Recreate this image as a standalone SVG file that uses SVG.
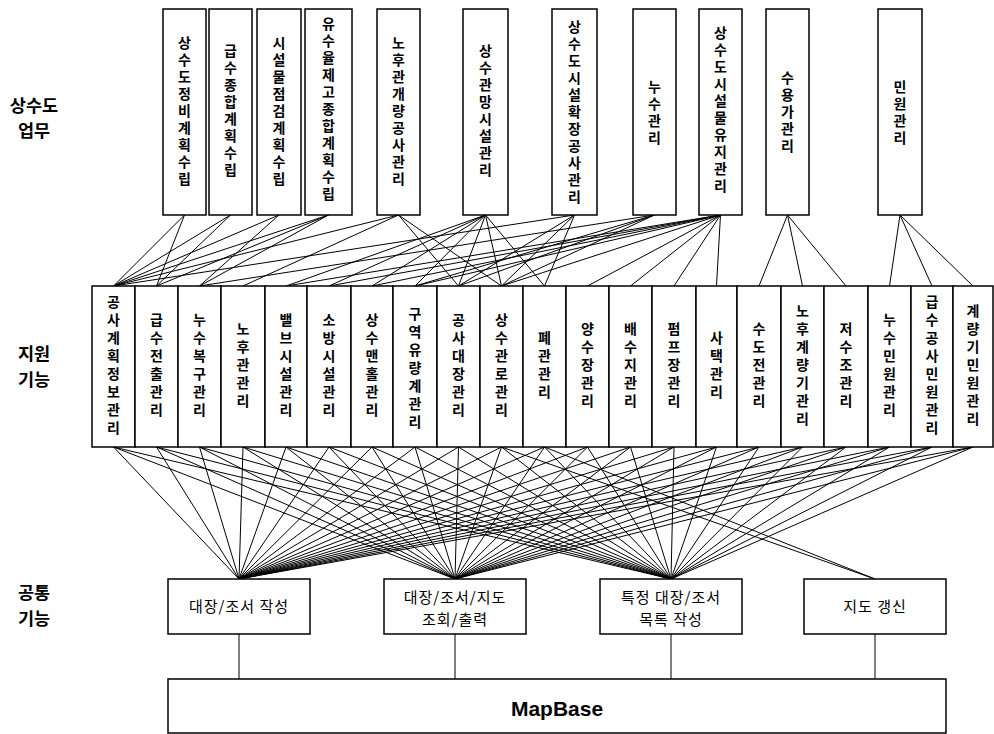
<svg xmlns="http://www.w3.org/2000/svg" width="994" height="734" viewBox="0 0 994 734">
  <style>
    .box { fill: #fff; stroke: #000; stroke-width: 1.5; }
    .edge { stroke: #000; stroke-width: 1; fill: none; }
    .vt { font-family: "Noto Sans CJK KR", "Noto Sans", sans-serif; font-size: 14px; font-weight: bold; writing-mode: vertical-rl; text-anchor: middle; fill: #000; }
    .top .vt { letter-spacing: 3px; }
    .mid .vt { letter-spacing: 4px; }
    .lvl { font-family: "Noto Sans CJK KR", "Noto Sans", sans-serif; font-size: 17.5px; font-weight: bold; text-anchor: middle; fill: #000; }
    .lbl { font-family: "Noto Sans CJK KR", "Noto Sans", sans-serif; font-size: 15px; text-anchor: middle; letter-spacing: 1px; fill: #000; }
    .base { font-family: "Liberation Sans", Arial, sans-serif; font-size: 21px; font-weight: bold; text-anchor: middle; fill: #000; }
  </style>

  <!-- layer captions -->
  <g id="captions">
    <text class="lvl" x="34" y="112">상수도</text>
    <text class="lvl" x="34" y="137">업무</text>
    <text class="lvl" x="34" y="360">지원</text>
    <text class="lvl" x="34" y="386">기능</text>
    <text class="lvl" x="34" y="599">공통</text>
    <text class="lvl" x="34" y="625">기능</text>
  </g>

  <!-- connectors -->
  <g id="connectors" class="edge">
    <!-- business tasks -> support functions -->
    <line x1="184.5" y1="215" x2="113.5" y2="286"/>
    <line x1="184.5" y1="215" x2="156.5" y2="286"/>
    <line x1="230.5" y1="215" x2="113.5" y2="286"/>
    <line x1="230.5" y1="215" x2="156.5" y2="286"/>
    <line x1="279" y1="215" x2="113.5" y2="286"/>
    <line x1="279" y1="215" x2="199.5" y2="286"/>
    <line x1="328.5" y1="215" x2="113.5" y2="286"/>
    <line x1="328.5" y1="215" x2="156.5" y2="286"/>
    <line x1="328.5" y1="215" x2="199.5" y2="286"/>
    <line x1="398.5" y1="215" x2="113.5" y2="286"/>
    <line x1="398.5" y1="215" x2="243" y2="286"/>
    <line x1="398.5" y1="215" x2="458.5" y2="286"/>
    <line x1="398.5" y1="215" x2="501.5" y2="286"/>
    <line x1="485.5" y1="215" x2="286" y2="286"/>
    <line x1="485.5" y1="215" x2="329" y2="286"/>
    <line x1="485.5" y1="215" x2="372" y2="286"/>
    <line x1="485.5" y1="215" x2="415" y2="286"/>
    <line x1="485.5" y1="215" x2="458.5" y2="286"/>
    <line x1="485.5" y1="215" x2="501.5" y2="286"/>
    <line x1="485.5" y1="215" x2="544.5" y2="286"/>
    <line x1="574.5" y1="215" x2="113.5" y2="286"/>
    <line x1="574.5" y1="215" x2="458.5" y2="286"/>
    <line x1="574.5" y1="215" x2="501.5" y2="286"/>
    <line x1="574.5" y1="215" x2="544.5" y2="286"/>
    <line x1="654.5" y1="215" x2="199.5" y2="286"/>
    <line x1="654.5" y1="215" x2="415" y2="286"/>
    <line x1="654.5" y1="215" x2="458.5" y2="286"/>
    <line x1="654.5" y1="215" x2="501.5" y2="286"/>
    <line x1="720.5" y1="215" x2="286" y2="286"/>
    <line x1="720.5" y1="215" x2="329" y2="286"/>
    <line x1="720.5" y1="215" x2="372" y2="286"/>
    <line x1="720.5" y1="215" x2="415" y2="286"/>
    <line x1="720.5" y1="215" x2="501.5" y2="286"/>
    <line x1="720.5" y1="215" x2="587.5" y2="286"/>
    <line x1="720.5" y1="215" x2="630.5" y2="286"/>
    <line x1="720.5" y1="215" x2="674" y2="286"/>
    <line x1="720.5" y1="215" x2="716.5" y2="286"/>
    <line x1="787.5" y1="215" x2="759" y2="286"/>
    <line x1="787.5" y1="215" x2="802.5" y2="286"/>
    <line x1="787.5" y1="215" x2="846" y2="286"/>
    <line x1="900" y1="215" x2="889.5" y2="286"/>
    <line x1="900" y1="215" x2="932" y2="286"/>
    <line x1="900" y1="215" x2="973" y2="286"/>

    <!-- support functions -> common functions -->
    <line x1="113.5" y1="447" x2="239" y2="579"/><line x1="113.5" y1="447" x2="455" y2="579"/><line x1="113.5" y1="447" x2="671" y2="579"/>
    <line x1="156.5" y1="447" x2="239" y2="579"/><line x1="156.5" y1="447" x2="455" y2="579"/><line x1="156.5" y1="447" x2="671" y2="579"/>
    <line x1="199.5" y1="447" x2="239" y2="579"/><line x1="199.5" y1="447" x2="455" y2="579"/><line x1="199.5" y1="447" x2="671" y2="579"/>
    <line x1="243" y1="447" x2="239" y2="579"/><line x1="243" y1="447" x2="455" y2="579"/><line x1="243" y1="447" x2="671" y2="579"/>
    <line x1="286" y1="447" x2="239" y2="579"/><line x1="286" y1="447" x2="455" y2="579"/><line x1="286" y1="447" x2="671" y2="579"/>
    <line x1="329" y1="447" x2="239" y2="579"/><line x1="329" y1="447" x2="455" y2="579"/><line x1="329" y1="447" x2="671" y2="579"/>
    <line x1="372" y1="447" x2="239" y2="579"/><line x1="372" y1="447" x2="455" y2="579"/><line x1="372" y1="447" x2="671" y2="579"/>
    <line x1="415" y1="447" x2="239" y2="579"/><line x1="415" y1="447" x2="455" y2="579"/><line x1="415" y1="447" x2="671" y2="579"/>
    <line x1="458.5" y1="447" x2="239" y2="579"/><line x1="458.5" y1="447" x2="455" y2="579"/><line x1="458.5" y1="447" x2="671" y2="579"/>
    <line x1="501.5" y1="447" x2="239" y2="579"/><line x1="501.5" y1="447" x2="455" y2="579"/><line x1="501.5" y1="447" x2="671" y2="579"/>
    <line x1="544.5" y1="447" x2="239" y2="579"/><line x1="544.5" y1="447" x2="455" y2="579"/><line x1="544.5" y1="447" x2="671" y2="579"/>
    <line x1="587.5" y1="447" x2="239" y2="579"/><line x1="587.5" y1="447" x2="455" y2="579"/><line x1="587.5" y1="447" x2="671" y2="579"/>
    <line x1="630.5" y1="447" x2="239" y2="579"/><line x1="630.5" y1="447" x2="455" y2="579"/><line x1="630.5" y1="447" x2="671" y2="579"/>
    <line x1="674" y1="447" x2="239" y2="579"/><line x1="674" y1="447" x2="455" y2="579"/><line x1="674" y1="447" x2="671" y2="579"/>
    <line x1="716.5" y1="447" x2="239" y2="579"/><line x1="716.5" y1="447" x2="455" y2="579"/><line x1="716.5" y1="447" x2="671" y2="579"/>
    <line x1="759" y1="447" x2="239" y2="579"/><line x1="759" y1="447" x2="455" y2="579"/><line x1="759" y1="447" x2="671" y2="579"/>
    <line x1="802.5" y1="447" x2="239" y2="579"/><line x1="802.5" y1="447" x2="455" y2="579"/><line x1="802.5" y1="447" x2="671" y2="579"/>
    <line x1="846" y1="447" x2="239" y2="579"/><line x1="846" y1="447" x2="455" y2="579"/><line x1="846" y1="447" x2="671" y2="579"/>
    <line x1="889.5" y1="447" x2="239" y2="579"/><line x1="889.5" y1="447" x2="455" y2="579"/><line x1="889.5" y1="447" x2="671" y2="579"/>
    <line x1="932" y1="447" x2="239" y2="579"/><line x1="932" y1="447" x2="455" y2="579"/><line x1="932" y1="447" x2="671" y2="579"/>
    <line x1="973" y1="447" x2="239" y2="579"/><line x1="973" y1="447" x2="455" y2="579"/><line x1="973" y1="447" x2="671" y2="579"/>
    <line x1="501.5" y1="447" x2="875" y2="579"/>
    <line x1="544.5" y1="447" x2="875" y2="579"/>

    <!-- common functions -> MapBase -->
    <line x1="239" y1="634" x2="239" y2="679"/>
    <line x1="455" y1="634" x2="455" y2="679"/>
    <line x1="671" y1="634" x2="671" y2="679"/>
    <line x1="875" y1="634" x2="875" y2="679"/>
  </g>

  <!-- water-supply business tasks -->
  <g class="top">
    <g id="t1"><rect class="box" x="163" y="9" width="43" height="206"/><text class="vt" x="184.5" y="112">상수도정비계획수립</text></g>
    <g id="t2"><rect class="box" x="209" y="9" width="43" height="206"/><text class="vt" x="230.5" y="112">급수종합계획수립</text></g>
    <g id="t3"><rect class="box" x="257" y="9" width="44" height="206"/><text class="vt" x="279" y="112">시설물점검계획수립</text></g>
    <g id="t4"><rect class="box" x="305" y="9" width="47" height="206"/><text class="vt" x="328.5" y="110">유수율제고종합계획수립</text></g>
    <g id="t5"><rect class="box" x="377" y="9" width="43" height="206"/><text class="vt" x="398.5" y="112">노후관개량공사관리</text></g>
    <g id="t6"><rect class="box" x="463" y="9" width="45" height="206"/><text class="vt" x="485.5" y="112">상수관망시설관리</text></g>
    <g id="t7"><rect class="box" x="552" y="9" width="45" height="206"/><text class="vt" x="574.5" y="113">상수도시설확장공사관리</text></g>
    <g id="t8"><rect class="box" x="633" y="9" width="43" height="206"/><text class="vt" x="654.5" y="114">누수관리</text></g>
    <g id="t9"><rect class="box" x="699" y="9" width="43" height="206"/><text class="vt" x="720.5" y="111">상수도시설물유지관리</text></g>
    <g id="t10"><rect class="box" x="766" y="9" width="43" height="206"/><text class="vt" x="787.5" y="113">수용가관리</text></g>
    <g id="t11"><rect class="box" x="878" y="9" width="44" height="206"/><text class="vt" x="900" y="114">민원관리</text></g>
  </g>

  <!-- support functions -->
  <g class="mid">
    <g id="m1"><rect class="box" x="92" y="286" width="43" height="161"/><text class="vt" x="113.5" y="367">공사계획정보관리</text></g>
    <g id="m2"><rect class="box" x="135" y="286" width="43" height="161"/><text class="vt" x="156.5" y="367">급수전출관리</text></g>
    <g id="m3"><rect class="box" x="178" y="286" width="43" height="161"/><text class="vt" x="199.5" y="367">누수복구관리</text></g>
    <g id="m4"><rect class="box" x="221" y="286" width="44" height="161"/><text class="vt" x="243" y="367">노후관관리</text></g>
    <g id="m5"><rect class="box" x="265" y="286" width="42" height="161"/><text class="vt" x="286" y="367">밸브시설관리</text></g>
    <g id="m6"><rect class="box" x="307" y="286" width="44" height="161"/><text class="vt" x="329" y="367">소방시설관리</text></g>
    <g id="m7"><rect class="box" x="351" y="286" width="42" height="161"/><text class="vt" x="372" y="367">상수맨홀관리</text></g>
    <g id="m8"><rect class="box" x="393" y="286" width="44" height="161"/><text class="vt" x="415" y="370">구역유량계관리</text></g>
    <g id="m9"><rect class="box" x="437" y="286" width="43" height="161"/><text class="vt" x="458.5" y="367">공사대장관리</text></g>
    <g id="m10"><rect class="box" x="480" y="286" width="43" height="161"/><text class="vt" x="501.5" y="367">상수관로관리</text></g>
    <g id="m11"><rect class="box" x="523" y="286" width="43" height="161"/><text class="vt" x="544.5" y="367">폐관관리</text></g>
    <g id="m12"><rect class="box" x="566" y="286" width="43" height="161"/><text class="vt" x="587.5" y="367">양수장관리</text></g>
    <g id="m13"><rect class="box" x="609" y="286" width="43" height="161"/><text class="vt" x="630.5" y="367">배수지관리</text></g>
    <g id="m14"><rect class="box" x="652" y="286" width="44" height="161"/><text class="vt" x="674" y="367">펌프장관리</text></g>
    <g id="m15"><rect class="box" x="696" y="286" width="41" height="161"/><text class="vt" x="716.5" y="367">사택관리</text></g>
    <g id="m16"><rect class="box" x="737" y="286" width="44" height="161"/><text class="vt" x="759" y="367">수도전관리</text></g>
    <g id="m17"><rect class="box" x="781" y="286" width="43" height="161"/><text class="vt" x="802.5" y="367">노후계량기관리</text></g>
    <g id="m18"><rect class="box" x="824" y="286" width="44" height="161"/><text class="vt" x="846" y="367">저수조관리</text></g>
    <g id="m19"><rect class="box" x="868" y="286" width="43" height="161"/><text class="vt" x="889.5" y="367">누수민원관리</text></g>
    <g id="m20"><rect class="box" x="911" y="286" width="42" height="161"/><text class="vt" x="932" y="367">급수공사민원관리</text></g>
    <g id="m21"><rect class="box" x="953" y="286" width="40" height="161"/><text class="vt" x="973" y="367">계량기민원관리</text></g>
  </g>

  <!-- common functions -->
  <g id="c1"><rect class="box" x="168" y="579" width="142" height="55"/><text class="lbl" x="239" y="612">대장/조서 작성</text></g>
  <g id="c2"><rect class="box" x="384" y="579" width="142" height="55"/><text class="lbl" x="455" y="603">대장/조서/지도</text><text class="lbl" x="455" y="625">조회/출력</text></g>
  <g id="c3"><rect class="box" x="600" y="579" width="142" height="55"/><text class="lbl" x="671" y="603">특정 대장/조서</text><text class="lbl" x="671" y="625">목록 작성</text></g>
  <g id="c4"><rect class="box" x="804" y="579" width="142" height="55"/><text class="lbl" x="875" y="612">지도 갱신</text></g>

  <!-- base map engine -->
  <g id="mapbase"><rect class="box" x="168" y="679" width="778" height="54"/><text class="base" x="557" y="716">MapBase</text></g>
</svg>
